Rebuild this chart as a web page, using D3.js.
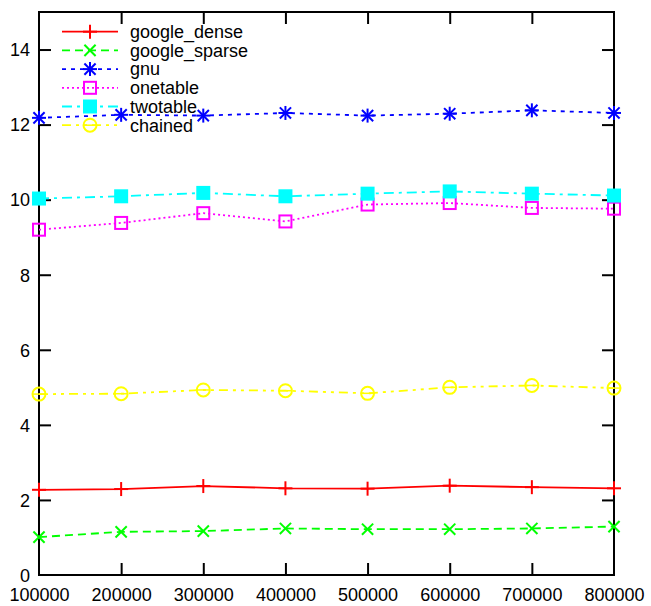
<!DOCTYPE html>
<html>
<head>
<meta charset="utf-8">
<script src="https://cdn.jsdelivr.net/npm/d3@7/dist/d3.min.js"></script>
<style>
  html, body { margin: 0; padding: 0; background: #fff; }
  svg { display: block; font-family: "Liberation Sans", Arial, sans-serif; }
</style>
</head>
<body>
<svg id="chart" width="651" height="606"></svg>
<script>
// Table sizes (x) and timings per series (y)
const sizes = [100000, 200000, 300000, 400000, 500000, 600000, 700000, 800000];
const googleDense  = [2.27, 2.29, 2.37, 2.31, 2.30, 2.38, 2.34, 2.31];
const googleSparse = [1.01, 1.15, 1.17, 1.24, 1.22, 1.22, 1.24, 1.29];
const gnu          = [12.18, 12.26, 12.24, 12.31, 12.24, 12.29, 12.38, 12.31];
const onetable     = [9.20, 9.38, 9.64, 9.42, 9.87, 9.91, 9.78, 9.76];
const twotable     = [10.03, 10.09, 10.18, 10.09, 10.16, 10.22, 10.16, 10.11];
const chained      = [4.82, 4.83, 4.93, 4.91, 4.84, 5.00, 5.05, 4.98];

const seriesNames = ["google_dense", "google_sparse", "gnu", "onetable", "twotable", "chained"];
const yTicks = [0, 2, 4, 6, 8, 10, 12, 14];

const series = [
  { name: seriesNames[0], values: googleDense,  color: "#ff0000", dash: null,            marker: "plus" },
  { name: seriesNames[1], values: googleSparse, color: "#00ff00", dash: "8,5",           marker: "cross" },
  { name: seriesNames[2], values: gnu,          color: "#0000ff", dash: "4,5",           marker: "star" },
  { name: seriesNames[3], values: onetable,     color: "#ff00ff", dash: "2,3",           marker: "square" },
  { name: seriesNames[4], values: twotable,     color: "#00ffff", dash: "10,5,3,5",      marker: "fsquare" },
  { name: seriesNames[5], values: chained,      color: "#ffff00", dash: "9,5,3,5,3,5",   marker: "circle" }
];

const svg = d3.select("#chart");
const plotLeft = 39, plotRight = 614, plotTop = 12, plotBottom = 575;

const x = d3.scaleLinear().domain([100000, 800000]).range([plotLeft, plotRight]);
const y = d3.scaleLinear().domain([0, 15]).range([plotBottom, plotTop]);

const tickLen = 12;

// Axes with inward ticks on all four sides
const gx = svg.append("g").attr("transform", `translate(0,${plotBottom})`)
  .call(d3.axisBottom(x).tickValues(sizes).tickFormat(d3.format("d")).tickSizeInner(-tickLen).tickSizeOuter(0));
const gxt = svg.append("g").attr("transform", `translate(0,${plotTop})`)
  .call(d3.axisTop(x).tickValues(sizes).tickFormat("").tickSizeInner(-tickLen).tickSizeOuter(0));
const gy = svg.append("g").attr("transform", `translate(${plotLeft},0)`)
  .call(d3.axisLeft(y).tickValues(yTicks).tickFormat(d3.format("d")).tickSizeInner(-tickLen).tickSizeOuter(0));
const gyr = svg.append("g").attr("transform", `translate(${plotRight},0)`)
  .call(d3.axisRight(y).tickValues(yTicks).tickFormat("").tickSizeInner(-tickLen).tickSizeOuter(0));

[gx, gxt, gy, gyr].forEach(g => {
  g.select(".domain").remove();
  g.selectAll(".tick line").attr("stroke", "#000").attr("stroke-width", 2);
  g.selectAll(".tick text").attr("fill", "#000").style("font-size", "18px")
    .style("font-family", '"Liberation Sans", Arial, sans-serif');
});
gx.selectAll(".tick text").attr("y", 13).attr("dy", "0.71em");
gy.selectAll(".tick text").attr("x", -9).attr("dy", "0.35em");
// end ticks coincide with the frame
gx.selectAll(".tick line").filter((d, i) => i === 0 || i === sizes.length - 1).remove();
gxt.selectAll(".tick line").filter((d, i) => i === 0 || i === sizes.length - 1).remove();
gy.selectAll(".tick line").filter(d => d === 0).remove();
gyr.selectAll(".tick line").filter(d => d === 0).remove();

// Frame
svg.append("rect")
  .attr("x", plotLeft).attr("y", plotTop)
  .attr("width", plotRight - plotLeft).attr("height", plotBottom - plotTop)
  .attr("fill", "none").attr("stroke", "#000").attr("stroke-width", 2);

function drawMarker(g, type, cx, cy, color) {
  const s = 7;
  const m = g.append("g").attr("transform", `translate(${cx},${cy})`)
    .attr("stroke", color).attr("stroke-width", 2).attr("fill", "none");
  if (type === "plus" || type === "star") {
    m.append("line").attr("x1", -s).attr("x2", s).attr("y1", 0).attr("y2", 0);
    m.append("line").attr("x1", 0).attr("x2", 0).attr("y1", -s).attr("y2", s);
  }
  if (type === "cross" || type === "star") {
    const c = s * 0.8;
    m.append("line").attr("x1", -c).attr("x2", c).attr("y1", -c).attr("y2", c);
    m.append("line").attr("x1", -c).attr("x2", c).attr("y1", c).attr("y2", -c);
  }
  if (type === "square") {
    m.append("rect").attr("x", -6).attr("y", -6).attr("width", 12).attr("height", 12);
  }
  if (type === "fsquare") {
    m.append("rect").attr("x", -7).attr("y", -7).attr("width", 14).attr("height", 14)
      .attr("fill", color).attr("stroke", "none");
  }
  if (type === "circle") {
    m.append("circle").attr("r", 6.5);
    m.append("line").attr("x1", -6.5).attr("x2", 6.5).attr("y1", 0).attr("y2", 0).attr("stroke-width", 1.5);
  }
}

const line = d3.line().x((d, i) => x(sizes[i])).y(d => y(d));

const plot = svg.append("g");
series.forEach(s => {
  plot.append("path")
    .datum(s.values)
    .attr("d", line)
    .attr("fill", "none")
    .attr("stroke", s.color)
    .attr("stroke-width", 1.8)
    .attr("stroke-dasharray", s.dash);
  s.values.forEach((v, i) => drawMarker(plot, s.marker, x(sizes[i]), y(v), s.color));
});

// Legend
const legend = svg.append("g");
series.forEach((s, i) => {
  const ly = 31.7 + i * 18.7;
  legend.append("line")
    .attr("x1", 62).attr("x2", 118).attr("y1", ly).attr("y2", ly)
    .attr("stroke", s.color).attr("stroke-width", 1.8)
    .attr("stroke-dasharray", s.dash);
  drawMarker(legend, s.marker, 90, ly, s.color);
  legend.append("text")
    .attr("x", 130).attr("y", ly).attr("dy", "0.35em")
    .style("font-size", "18px").attr("fill", "#000")
    .text(s.name);
});
</script>
</body>
</html>
